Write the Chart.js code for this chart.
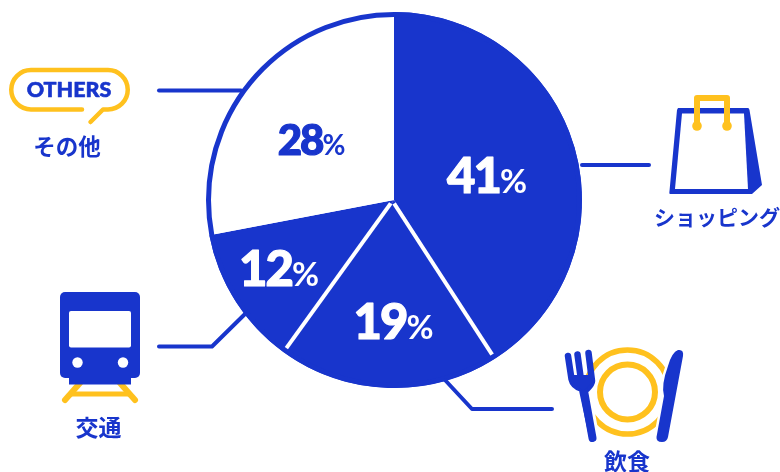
<!DOCTYPE html>
<html lang="ja">
<head>
<meta charset="utf-8">
<title>支出の内訳</title>
<style>
  html, body { margin: 0; padding: 0; background: #fff; }
  canvas { display: block; }
</style>
<script src="https://cdn.jsdelivr.net/npm/chart.js@4/dist/chart.umd.min.js"></script>
</head>
<body>
<canvas id="spendChart" width="780" height="472"></canvas>
<script>
const categories = ["ショッピング", "飲食", "交通", "その他"];
const shares = [41, 19, 12, 28];

const BLUE = "#1835cc";
const YELLOW = "#ffc11e";
const JP_FONT = '"Noto Sans CJK JP", "Noto Sans", sans-serif';
const NUM_FONT = 'Lato, "Noto Sans", sans-serif';

// where each percentage sits, relative to the pie centre
const labelSpots = [
    { x: 93, y: -25, size: 49, pct: 33, color: "#fff" },
    { x: -0.5, y: 121.5, size: 49, pct: 33, color: "#fff" },
    { x: -115, y: 68.5, size: 49, pct: 33, color: "#fff" },
    { x: -82.5, y: -60, size: 42, pct: 28, color: BLUE }
];

function sectorColors() {
    return shares.map((v, i) => i === shares.length - 1 ? "#fff" : BLUE);
}

function line(ctx, points, width, color) {
    ctx.beginPath();
    points.forEach((p, i) => i ? ctx.lineTo(p[0], p[1]) : ctx.moveTo(p[0], p[1]));
    ctx.lineWidth = width;
    ctx.strokeStyle = color;
    ctx.lineCap = "round";
    ctx.lineJoin = "round";
    ctx.stroke();
}

function caption(ctx, text, x, y, size) {
    ctx.font = "700 " + size + 'px ' + JP_FONT;
    ctx.fillStyle = BLUE;
    ctx.textAlign = "center";
    ctx.textBaseline = "middle";
    ctx.fillText(text, x, y);
}

function drawLeaders(ctx) {
    line(ctx, [[159, 90.5], [241, 90.5]], 4, BLUE);
    line(ctx, [[582, 165], [649, 165]], 4, BLUE);
    line(ctx, [[159, 346.5], [212, 346.5], [245, 314]], 4, BLUE);
    line(ctx, [[445, 380], [472, 409], [552, 409]], 4, BLUE);
}

function drawBubble(ctx) {
    ctx.beginPath();
    ctx.moveTo(82, 109.5);
    ctx.lineTo(31, 109.5);
    ctx.arc(31, 89.75, 19.75, Math.PI / 2, Math.PI * 1.5);
    ctx.lineTo(108, 70);
    ctx.arc(108, 89.75, 19.75, -Math.PI / 2, Math.PI / 2);
    ctx.lineTo(103, 109.5);
    ctx.lineTo(90.5, 122);
    ctx.lineWidth = 4.5;
    ctx.strokeStyle = YELLOW;
    ctx.lineCap = "round";
    ctx.lineJoin = "round";
    ctx.stroke();
    ctx.font = '900 21.5px Lato, sans-serif';
    ctx.fillStyle = BLUE;
    ctx.strokeStyle = BLUE;
    ctx.lineWidth = 0.6;
    ctx.textAlign = "center";
    ctx.textBaseline = "middle";
    ctx.fillText("OTHERS", 69, 90);
    ctx.strokeText("OTHERS", 69, 90);
}

function drawTrain(ctx) {
    line(ctx, [[80, 383], [65, 400]], 6, YELLOW);
    line(ctx, [[120, 383], [135, 400]], 6, YELLOW);
    line(ctx, [[72, 394], [128, 394]], 5, YELLOW);
    ctx.fillStyle = BLUE;
    ctx.beginPath();
    ctx.roundRect(60, 292, 80, 86, 5);
    ctx.fill();
    ctx.fillRect(69, 376, 62, 8.5);
    ctx.fillStyle = "#fff";
    ctx.beginPath();
    ctx.roundRect(69, 311, 62, 36.5, 2);
    ctx.fill();
    [77.5, 123].forEach(x => {
        ctx.beginPath();
        ctx.arc(x, 362.5, 5.2, 0, Math.PI * 2);
        ctx.fill();
    });
}

function drawCutlery(ctx) {
    ctx.lineWidth = 5.5;
    ctx.strokeStyle = YELLOW;
    ctx.beginPath();
    ctx.arc(627.5, 392, 42, 0, Math.PI * 2);
    ctx.stroke();
    ctx.lineWidth = 6;
    ctx.beginPath();
    ctx.arc(627.5, 392, 27.5, 0, Math.PI * 2);
    ctx.stroke();

    const fork = new Path2D(
        "M568 356 L571.5 379 Q573 386 582 389 L592.5 438 M577.5 354.5 L581 380 M588.5 353 L592 381 Q592 384 587 389 L582 389");
    line(ctx, [[592.5, 438], [583, 386]], 14, "#fff");
    line(ctx, [[587, 384], [591, 381]], 12, "#fff");
    ctx.lineWidth = 6.5;
    ctx.strokeStyle = BLUE;
    ctx.lineCap = "round";
    ctx.lineJoin = "round";
    ctx.stroke(fork);
    line(ctx, [[592.5, 438], [583.5, 388]], 8, BLUE);
    ctx.fillStyle = BLUE;
    ctx.beginPath();
    ctx.moveTo(571, 375);
    ctx.lineTo(592, 375);
    ctx.lineTo(592, 382);
    ctx.lineTo(584, 391);
    ctx.lineTo(575, 385);
    ctx.closePath();
    ctx.fill();

    const knife = new Path2D(
        "M656.5 437 L664 396 Q661 385 668 366 Q672 352 678 350 Q684 349 683 356 L668 437 Q667 442 662 442 Q656 442 656.5 437 Z");
    ctx.lineWidth = 5;
    ctx.strokeStyle = "#fff";
    ctx.stroke(knife);
    ctx.fillStyle = BLUE;
    ctx.fill(knife);
}

function drawBag(ctx) {
    ctx.fillStyle = BLUE;
    ctx.beginPath();
    ctx.moveTo(678, 108);
    ctx.lineTo(748, 108);
    ctx.quadraticCurveTo(749, 108, 749.5, 110);
    ctx.lineTo(762, 185);
    ctx.lineTo(752, 194);
    ctx.lineTo(670, 194);
    ctx.quadraticCurveTo(669, 194, 669.5, 191);
    ctx.lineTo(677, 110);
    ctx.closePath();
    ctx.fill();
    ctx.fillStyle = "#fff";
    ctx.beginPath();
    ctx.moveTo(682, 113.5);
    ctx.lineTo(744, 113.5);
    ctx.lineTo(748, 189);
    ctx.lineTo(675, 189);
    ctx.closePath();
    ctx.fill();
    ctx.lineWidth = 6;
    ctx.strokeStyle = YELLOW;
    ctx.lineJoin = "round";
    ctx.lineCap = "butt";
    ctx.beginPath();
    ctx.moveTo(697, 125);
    ctx.lineTo(697, 98);
    ctx.lineTo(727, 98);
    ctx.lineTo(727, 125);
    ctx.stroke();
    ctx.fillStyle = YELLOW;
    [697, 727].forEach(x => {
        ctx.beginPath();
        ctx.arc(x, 126, 4.8, 0, Math.PI * 2);
        ctx.fill();
    });
}

// white dividers and the outer ring, taken from the arc elements
const ringPlugin = {
    id: "ring",
    afterDatasetsDraw(chart) {
        const ctx = chart.ctx;
        const arcs = chart.getDatasetMeta(0).data;
        const cx = arcs[0].x, cy = arcs[0].y, r = arcs[0].outerRadius;
        ctx.save();
        [arcs[0].endAngle, arcs[1].endAngle].forEach(a => {
            ctx.beginPath();
            ctx.moveTo(cx + 3 * Math.cos(a) - 1.5, cy + 3 * Math.sin(a) + 1);
            ctx.lineTo(cx + (r - 3) * Math.cos(a), cy + (r - 3) * Math.sin(a));
            ctx.lineWidth = 4;
            ctx.strokeStyle = "#fff";
            ctx.lineCap = "butt";
            ctx.stroke();
        });
        ctx.beginPath();
        ctx.arc(cx, cy, r - 2.5, 0, Math.PI * 2);
        ctx.lineWidth = 5;
        ctx.strokeStyle = BLUE;
        ctx.stroke();
        ctx.restore();
    }
};

const labelPlugin = {
    id: "shareLabels",
    afterDraw(chart) {
        const ctx = chart.ctx;
        const arc = chart.getDatasetMeta(0).data[0];
        ctx.save();
        ctx.textBaseline = "alphabetic";
        ctx.lineJoin = "round";
        shares.forEach((v, i) => {
            const spot = labelSpots[i];
            const num = String(v);
            ctx.font = "900 " + spot.size + "px " + NUM_FONT;
            ctx.letterSpacing = "-2px";
            const numWidth = ctx.measureText(num).width;
            ctx.letterSpacing = "0px";
            ctx.font = "700 " + spot.pct + "px " + NUM_FONT;
            const pctWidth = ctx.measureText("%").width;
            const left = arc.x + spot.x - (numWidth + pctWidth) / 2;
            const base = arc.y + spot.y + spot.size * 0.36;
            ctx.fillStyle = spot.color;
            ctx.strokeStyle = spot.color;
            ctx.lineWidth = 1.2;
            ctx.textAlign = "left";
            ctx.font = "900 " + spot.size + "px " + NUM_FONT;
            ctx.letterSpacing = "-2px";
            ctx.fillText(num, left, base);
            ctx.strokeText(num, left, base);
            ctx.letterSpacing = "0px";
            ctx.font = "700 " + spot.pct + "px " + NUM_FONT;
            ctx.fillText("%", left + numWidth, base);
        });
        ctx.restore();
    }
};

const iconPlugin = {
    id: "icons",
    afterDraw(chart) {
        const ctx = chart.ctx;
        ctx.save();
        drawLeaders(ctx);
        drawBubble(ctx);
        drawTrain(ctx);
        drawCutlery(ctx);
        drawBag(ctx);
        caption(ctx, categories[0], 717, 217, 21);
        caption(ctx, categories[1], 627, 461, 23);
        caption(ctx, categories[2], 98.5, 427, 23);
        caption(ctx, categories[3], 67, 146, 22.5);
        ctx.restore();
    }
};

new Chart(document.getElementById("spendChart"), {
    type: "pie",
    data: {
        labels: categories,
        datasets: [{
            data: shares,
            backgroundColor: sectorColors(),
            borderWidth: 0
        }]
    },
    options: {
        responsive: false,
        animation: false,
        layout: { padding: { top: 12, bottom: 84, left: 8, right: 0 } },
        plugins: { legend: { display: false }, tooltip: { enabled: false } }
    },
    plugins: [iconPlugin, ringPlugin, labelPlugin]
});
</script>
</body>
</html>
